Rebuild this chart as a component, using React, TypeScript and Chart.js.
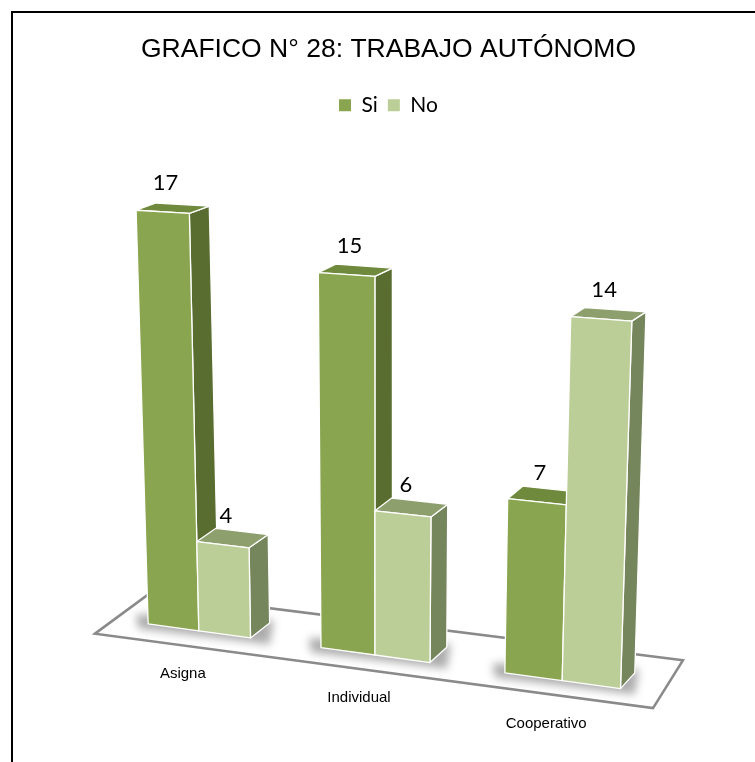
import React, { useEffect, useRef } from "react";
import { Chart, registerables } from "chart.js";

Chart.register(...registerables);

// ---- data ----
const categories = ["Asigna", "Individual", "Cooperativo"];
const seriesNames = ["Si", "No"];
const siValues = [17, 15, 7];
const noValues = [4, 6, 14];
const titleText = "GRAFICO N° 28: TRABAJO AUTÓNOMO";

// ---- style / perspective ----
const SHEAR = 0.137; // floor slope
const XCURVE = 0.000167; // horizontal perspective widening
const XOFF = -2.5;
const VGROW = 0.00018; // vertical perspective growth to the right
const LEAN = 0.000127; // verticals fan out from the centre
const SINK = 11.6; // part of bar hidden in floor (px)
const faces = [
  { front: "#8AA54F", top: "#6F8A3D", side: "#596D31" },
  { front: "#BCCE97", top: "#8E9F6E", side: "#75855C" },
];

function depthAt(x: number, y: number) {
  return { dx: 21 - 0.013 * (x - 105), dy: -7 - 0.018 * (y - 200) };
}

const bars3d = {
  id: "bars3d",
  beforeDraw(chart: any) {
    const ctx = chart.ctx;
    ctx.save();
    ctx.fillStyle = "#fff";
    ctx.fillRect(0, 0, chart.width, chart.height);
    ctx.strokeStyle = "#000";
    ctx.lineWidth = 2;
    ctx.beginPath();
    ctx.moveTo(12, chart.height + 5);
    ctx.lineTo(12, 12);
    ctx.lineTo(chart.width + 5, 12);
    ctx.stroke();
    ctx.restore();
  },
  beforeDatasetDraw() {
    return false;
  },
  afterDatasetsDraw(chart: any) {
    const ctx = chart.ctx;
    const area = chart.chartArea;
    const x0 = area.left;
    const xm = (area.left + area.right) / 2;
    const zero = chart.scales.y.getPixelForValue(0);
    const baseY = (X: number) => zero + SHEAR * (X - x0);
    const mapX = (x: number) => x + XCURVE * (x - xm) * (x - xm) + XOFF;
    const grow = (X: number) => 1 + VGROW * (X - x0 - 65);
    const P = (x: number, h: number): [number, number] => {
      const X = mapX(x);
      const hs = grow(X) * Math.max(0, h - SINK);
      return [X + LEAN * (X - xm) * hs, baseY(X) - hs];
    };
    const sh = (x: number, dy: number): [number, number] => [x, baseY(x) + dy];

    ctx.save();
    // floor
    const fl = [
      sh(area.left - 10, 17),
      sh(area.left + 45, -31),
      sh(area.right + 33, -37),
      sh(area.right + 3, 15),
    ];
    ctx.beginPath();
    fl.forEach((p, i) => (i ? ctx.lineTo(p[0], p[1]) : ctx.moveTo(p[0], p[1])));
    ctx.closePath();
    ctx.fillStyle = "#fff";
    ctx.fill();
    ctx.strokeStyle = "#8a8a8a";
    ctx.lineWidth = 2.5;
    ctx.lineJoin = "miter";
    ctx.stroke();

    const metas = [chart.getDatasetMeta(0), chart.getDatasetMeta(1)];
    const poly = (pts: [number, number][], fill: string) => {
      ctx.beginPath();
      pts.forEach((p, i) => (i ? ctx.lineTo(p[0], p[1]) : ctx.moveTo(p[0], p[1])));
      ctx.closePath();
      ctx.fillStyle = fill;
      ctx.fill();
      ctx.strokeStyle = "#ffffff";
      ctx.lineWidth = 1.3;
      ctx.lineJoin = "round";
      ctx.stroke();
    };

    // shadows
    for (let i = 0; i < categories.length; i++) {
      const a = metas[0].data[i].getProps(["x", "width"], true);
      const b = metas[1].data[i].getProps(["x", "width"], true);
      const L = mapX(a.x - a.width / 2);
      const R = mapX(b.x + b.width / 2);
      const d = depthAt(R, baseY(R));
      ctx.save();
      ctx.filter = "blur(4px)";
      ctx.fillStyle = "rgba(0,0,0,0.32)";
      ctx.beginPath();
      const p1 = sh(L - 12, -8);
      const p2 = sh(R + d.dx + 4, -6 + d.dy);
      const p3 = sh(R + d.dx, 4);
      const p4 = sh(L - 10, 6);
      ctx.moveTo(p1[0], p1[1]);
      ctx.lineTo(p2[0], p2[1]);
      ctx.lineTo(p3[0], p3[1]);
      ctx.lineTo(p4[0], p4[1]);
      ctx.closePath();
      ctx.fill();
      ctx.restore();
    }

    // bars
    const labels: { x: number; y: number; t: string }[] = [];
    for (let i = 0; i < categories.length; i++) {
      for (let s = 0; s < 2; s++) {
        const el = metas[s].data[i].getProps(["x", "y", "base", "width"], true);
        const L = el.x - el.width / 2;
        const R = el.x + el.width / 2;
        const h = el.base - el.y;
        const flt = P(L, h);
        const frt = P(R, h);
        const frb = P(R, 0);
        const flb = P(L, 0);
        const dT = depthAt(frt[0], frt[1]);
        const dB = depthAt(frb[0], frb[1]);
        poly(
          [frt, [frt[0] + dT.dx, frt[1] + dT.dy], [frb[0] + dB.dx, frb[1] + dB.dy], frb],
          faces[s].side
        );
        poly(
          [flt, frt, [frt[0] + dT.dx, frt[1] + dT.dy], [flt[0] + dT.dx, flt[1] + dT.dy]],
          faces[s].top
        );
        poly([flt, frt, frb, flb], faces[s].front);
        const v = chart.data.datasets[s].data[i];
        const c = P(el.x, h);
        labels.push({ x: c[0] + 3, y: c[1] - 29, t: String(v) });
      }
    }

    // value labels
    ctx.fillStyle = "#000";
    ctx.font = "22px Lato, 'Noto Sans', sans-serif";
    ctx.textAlign = "center";
    ctx.textBaseline = "middle";
    labels.forEach((l) => ctx.fillText(l.t, l.x, l.y));

    // category labels
    ctx.font = "15px 'Liberation Sans', Arial, sans-serif";
    const xs = chart.scales.x;
    categories.forEach((c, i) => {
      const cx = mapX(xs.getPixelForValue(i)) - 16;
      const p = sh(cx, 45);
      ctx.fillText(c, p[0], p[1]);
    });
    ctx.restore();
  },
};

export default function App() {
  const ref = useRef<HTMLCanvasElement | null>(null);
  useEffect(() => {
    document.body.style.margin = "0";
    const canvas = ref.current!;
    const chart = new Chart(canvas, {
      type: "bar",
      data: {
        labels: categories,
        datasets: [
          { label: seriesNames[0], data: siValues, backgroundColor: faces[0].front, borderWidth: 0 },
          { label: seriesNames[1], data: noValues, backgroundColor: faces[1].front, borderWidth: 0 },
        ],
      },
      options: {
        responsive: false,
        animation: false,
        devicePixelRatio: 1,
        datasets: { bar: { categoryPercentage: 0.6, barPercentage: 1 } },
        layout: { padding: { top: 20, left: 22, right: 0, bottom: 144 } },
        scales: {
          x: { type: "category", display: false },
          y: {
            min: 0,
            max: 19.6,
            position: "left",
            ticks: { display: false },
            grid: { display: false },
            border: { display: false },
            afterFit: (s: any) => {
              s.width = 83;
            },
          },
          y2: {
            type: "linear",
            min: 0,
            max: 19.6,
            position: "right",
            ticks: { display: false },
            grid: { display: false },
            border: { display: false },
            afterFit: (s: any) => {
              s.width = 105;
            },
          },
        },
        plugins: {
          title: {
            display: true,
            text: titleText,
            color: "#000",
            font: { family: "'Liberation Sans', Arial, sans-serif", size: 26.5, weight: "normal" },
            padding: { top: 14, bottom: 19 },
          },
          legend: {
            display: true,
            position: "top",
            labels: {
              color: "#000",
              boxWidth: 12,
              boxHeight: 12,
              padding: 10,
              font: { family: "Lato, 'Noto Sans', sans-serif", size: 21 },
            },
          },
          tooltip: { enabled: false },
        },
      },
      plugins: [bars3d],
    });
    return () => chart.destroy();
  }, []);
  return (
    <div style={{ width: 755, height: 762, position: "relative" }}>
      <canvas ref={ref} width={755} height={762} style={{ display: "block" }} />
    </div>
  );
}
